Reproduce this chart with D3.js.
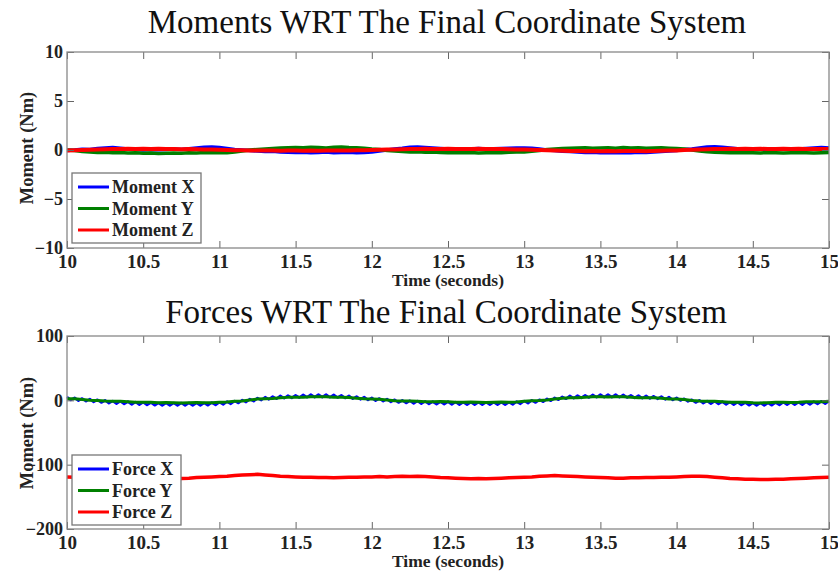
<!DOCTYPE html>
<html>
<head>
<meta charset="utf-8">
<script src="https://cdn.jsdelivr.net/npm/d3@7"></script>
<style>
  html, body { margin: 0; padding: 0; background: #fff; }
  svg { display: block; }
  text { font-family: "Liberation Serif", "Times New Roman", "DejaVu Serif", serif; }
</style>
</head>
<body>
<svg id="chart" width="838" height="571"></svg>
<script>
// ---------------- DATA ----------------
const timeDomain = [10, 15];
const xTickValues = [10, 10.5, 11, 11.5, 12, 12.5, 13, 13.5, 14, 14.5, 15];
const xTickLabels = ["10", "10.5", "11", "11.5", "12", "12.5", "13", "13.5", "14", "14.5", "15"];

const momentTitle = "Moments WRT The Final Coordinate System";
const forceTitle = "Forces WRT The Final Coordinate System";
const xLabel = "Time (seconds)";
const yLabel = "Moment (Nm)";

const momentDomain = [-10, 10];
const momentTicks = [-10, -5, 0, 5, 10];
const forceDomain = [-200, 100];
const forceTicks = [-200, -100, 0, 100];

const momentNames = ["Moment X", "Moment Y", "Moment Z"];
const forceNames = ["Force X", "Force Y", "Force Z"];
const seriesColors = ["#0000ff", "#008000", "#ff0000"];

// Moments, sampled every 0.05 s from 10 s to 15 s
const momentX = [
  -0.05,0.0,0.08,0.05,0.15,0.2,0.25,0.18,0.1,0.05,
  0.0,0.05,0.02,0.05,0.1,0.05,0.12,0.2,0.28,0.3,
  0.25,0.15,0.05,0.0,-0.05,-0.1,-0.15,-0.12,-0.2,-0.22,
  -0.25,-0.22,-0.28,-0.25,-0.2,-0.27,-0.25,-0.22,-0.28,-0.25,
  -0.2,-0.1,0.0,0.1,0.18,0.28,0.3,0.25,0.2,0.15,
  0.1,0.12,0.08,0.1,0.15,0.1,0.12,0.15,0.18,0.2,
  0.2,0.18,0.1,0.0,-0.05,-0.12,-0.15,-0.2,-0.25,-0.22,
  -0.27,-0.25,-0.28,-0.25,-0.27,-0.22,-0.25,-0.2,-0.15,-0.1,
  -0.05,0.05,0.1,0.2,0.3,0.32,0.28,0.2,0.12,0.1,
  0.05,0.08,0.1,0.05,0.12,0.08,0.1,0.15,0.2,0.25,
  0.2
];
const momentY = [
  0.0,-0.05,-0.15,-0.2,-0.25,-0.22,-0.28,-0.25,-0.3,-0.28,
  -0.32,-0.3,-0.35,-0.33,-0.3,-0.32,-0.28,-0.3,-0.25,-0.28,
  -0.25,-0.28,-0.2,-0.1,0.0,0.05,0.1,0.15,0.2,0.22,
  0.25,0.22,0.28,0.25,0.2,0.27,0.3,0.25,0.22,0.18,
  0.1,0.05,-0.05,-0.1,-0.15,-0.2,-0.18,-0.22,-0.2,-0.25,
  -0.27,-0.25,-0.28,-0.25,-0.3,-0.27,-0.25,-0.28,-0.22,-0.2,
  -0.2,-0.12,-0.05,0.05,0.1,0.15,0.18,0.2,0.22,0.18,
  0.2,0.22,0.18,0.25,0.2,0.22,0.18,0.2,0.22,0.18,
  0.15,0.1,0.0,-0.1,-0.18,-0.22,-0.25,-0.27,-0.25,-0.28,
  -0.27,-0.3,-0.25,-0.28,-0.3,-0.27,-0.25,-0.28,-0.3,-0.27,
  -0.25
];
const momentZ = [
  -0.05,-0.03,0.0,0.03,0.05,0.08,0.1,0.1,0.12,0.1,
  0.12,0.1,0.12,0.1,0.1,0.08,0.1,0.08,0.05,0.05,
  0.03,0.0,-0.02,-0.03,-0.05,-0.05,-0.06,-0.05,-0.07,-0.05,
  -0.06,-0.08,-0.06,-0.07,-0.05,-0.06,-0.05,-0.04,-0.03,-0.02,
  0.0,0.02,0.04,0.06,0.08,0.1,0.1,0.12,0.1,0.1,
  0.12,0.1,0.11,0.1,0.12,0.1,0.09,0.1,0.08,0.06,
  0.05,0.03,0.0,-0.03,-0.06,-0.08,-0.1,-0.1,-0.12,-0.1,
  -0.12,-0.1,-0.12,-0.1,-0.11,-0.1,-0.12,-0.1,-0.08,-0.06,
  -0.04,0.0,0.03,0.06,0.08,0.1,0.1,0.12,0.1,0.12,
  0.1,0.12,0.1,0.11,0.12,0.1,0.12,0.1,0.11,0.1,
  0.1
];

// Force X, sampled every 0.025 s (shows the fast ripple)
const forceX = [
  5,0.5,4,-0.5, 3,-1.5,2,-2.5, 1,-3.5,0,-4.5, -1,-5.3,-1.5,-5.8, -2,-6.3,-2.5,-6.8,
  -3,-7.3,-3.5,-7.8, -4,-8,-4,-8, -4,-8,-4,-8, -4,-8,-4,-8, -4,-7.8,-3.5,-7.3,
  -3,-6.5,-2,-5.5, -1,-4.3,0.5,-2.8, 2,-1.3,3.5,0.3, 5,1.5,6,2.5, 7,3.3,7.5,3.8,
  8,4.3,8.5,4.8, 9,5,9,5, 9,4.8,8.5,4.3, 8,3.5,7,2.5, 6,1.5,5,0.5,
  4,-0.5,3,-1.5, 2,-2.5,1,-3.5, 0,-4.3,-0.5,-4.8, -1,-5.3,-1.5,-5.8, -2,-6,-2,-6,
  -2,-6.3,-2.5,-6.8, -3,-7,-3,-7, -3,-7,-3,-7, -3,-7,-3,-7, -3,-6.5,-2,-5.5,
  -1,-4.5,0,-3.5, 1,-2.3,2.5,-0.8, 4,0.8,5.5,2.3, 7,3.3,7.5,3.8, 8,4.3,8.5,4.8,
  9,5,9,5, 9,4.8,8.5,4.3, 8,3.8,7.5,3.3, 7,2.8,6.5,2.3, 6,1.5,5,0.5,
  4,-0.3,2.5,-1.8, 1,-3.5,0,-4.5, -1,-5.3,-1.5,-5.8, -2,-6.3,-2.5,-6.8, -3,-7.3,-3.5,-7.8,
  -4,-8,-4,-8, -4,-7.8,-3.5,-7.3, -3,-7,-3,-7, -3,-6.8,-2.5,-6.3, -2,-5.8,-1.5,-5.3,
  -1
];
// Force Y and Force Z, sampled every 0.05 s
const forceY = [
  2.6,2.3,1.2,0.2,-0.2,-1.2,-1.6,-1.6,-2.3,-3.0,
  -3,-3.0,-3.7,-3.4,-3.7,-4.0,-3.7,-3.4,-3.7,-3.7,
  -3,-2.6,-1.6,-0.9,0.5,1.9,2.6,3.0,4,4.6,
  4.7,4.8,5.4,5.7,5.4,4.8,4.7,4.3,3.3,2.3,
  1.9,1.5,0.5,-0.5,-0.9,-1.0,-1.6,-2.2,-2.3,-2.0,
  -2.3,-3.0,-3,-2.7,-3,-3.3,-3,-2.7,-3,-2.6,
  -1.6,-0.6,-0.2,0.5,1.9,3.3,4,4.0,4.7,5.4,
  5.4,5.1,5.4,5.4,4.7,4.0,4,4.0,3.3,2.2,
  1.9,1.2,-0.2,-1.2,-1.6,-1.6,-2.3,-3.0,-3,-3.0,
  -3.7,-4.0,-3.7,-3.0,-3,-3.3,-3,-2.3,-2.3,-2.3,
  -1.6
];
const forceZ = [
  -119,-119.5,-119,-118.5,-119,-119.5,-119,-119,-120,-120.5,
  -121,-121.5,-122,-122.5,-122,-121.5,-121,-120,-119.5,-119,
  -118.5,-118,-117,-116,-115.5,-115,-116,-117,-118,-118.5,
  -119,-119.5,-119.5,-120,-120,-120.5,-120,-119.5,-119.5,-119,
  -119,-118.5,-119,-118.5,-118,-118.5,-118,-118.5,-119,-120,
  -120.5,-121,-121.5,-122,-121.5,-122,-121.5,-121,-120.5,-120,
  -119.5,-119,-118,-117.5,-117,-117.5,-118,-118.5,-119,-119.5,
  -120,-120.5,-121,-121,-120.5,-120.5,-120,-120,-119.5,-119.5,
  -119,-118.5,-118,-118,-118.5,-119.5,-120.5,-121.5,-122,-122.5,
  -122.5,-123,-123,-122.5,-122.5,-122,-121.5,-121,-120.5,-120,
  -119.5
];

// ---------------- DRAWING ----------------
const svg = d3.select("#chart");
const x = d3.scaleLinear().domain(timeDomain).range([67, 829]);

function toPoints(values) {
  const t = d3.scaleLinear().domain([0, values.length - 1]).range(timeDomain);
  return values.map((v, i) => [t(i), v]);
}

function panel(cfg) {
  const y = d3.scaleLinear().domain(cfg.domain).range([cfg.bottom, cfg.top]);
  const g = svg.append("g");
  const left = x.range()[0], right = x.range()[1];

  // title
  g.append("text")
    .attr("x", cfg.titleX).attr("y", cfg.titleY)
    .attr("text-anchor", "middle")
    .attr("font-size", 33)
    .attr("fill", "#111")
    .text(cfg.title);

  // data lines
  const line = d3.line().x(d => x(d[0])).y(d => y(d[1]));
  cfg.series.forEach((s, i) => {
    g.append("path")
      .datum(toPoints(s))
      .attr("fill", "none")
      .attr("stroke", seriesColors[i])
      .attr("stroke-width", cfg.widths[i])
      .attr("stroke-linejoin", "round")
      .attr("d", line);
  });

  // axes (ticks inward, mirrored)
  const tickColor = "#666";
  const bAxis = g.append("g").attr("transform", `translate(0,${cfg.bottom})`)
    .call(d3.axisBottom(x).tickValues(xTickValues).tickSize(-7)
      .tickFormat((d, i) => xTickLabels[i]));
  bAxis.selectAll("text").attr("y", 13).attr("dy", "0.35em")
    .attr("font-size", 19).attr("font-weight", "bold").attr("fill", "#222");

  g.append("g").attr("transform", `translate(0,${cfg.top})`)
    .call(d3.axisTop(x).tickValues(xTickValues).tickSize(-7).tickFormat(""));

  const lAxis = g.append("g").attr("transform", `translate(${left},0)`)
    .call(d3.axisLeft(y).tickValues(cfg.ticks).tickSize(-7).tickPadding(4));
  lAxis.selectAll("text")
    .attr("font-size", 18).attr("font-weight", "bold").attr("fill", "#222");

  g.append("g").attr("transform", `translate(${right},0)`)
    .call(d3.axisRight(y).tickValues(cfg.ticks).tickSize(-7).tickFormat(""));

  g.selectAll(".domain").remove();
  g.selectAll(".tick line").attr("stroke", tickColor);
  g.selectAll(".tick text").style("font-family", "'Liberation Serif', 'Times New Roman', serif");

  // axes box
  g.append("rect")
    .attr("x", left).attr("y", cfg.top)
    .attr("width", right - left).attr("height", cfg.bottom - cfg.top)
    .attr("fill", "none").attr("stroke", "#888").attr("stroke-width", 1.3);

  // labels
  g.append("text")
    .attr("x", (left + right) / 2).attr("y", cfg.bottom + 32)
    .attr("dy", "0.35em")
    .attr("text-anchor", "middle")
    .attr("font-size", 17.5).attr("font-weight", "bold").attr("fill", "#222")
    .text(xLabel);

  g.append("text")
    .attr("transform", `translate(27,${cfg.yLabelY}) rotate(-90)`)
    .attr("dy", "0.35em")
    .attr("text-anchor", "middle")
    .attr("font-size", 18.5).attr("font-weight", "bold").attr("fill", "#222")
    .text(yLabel);

  // legend
  const lg = g.append("g");
  lg.append("rect")
    .attr("x", cfg.legend.x).attr("y", cfg.legend.y)
    .attr("width", cfg.legend.w).attr("height", cfg.legend.h)
    .attr("fill", "#fff").attr("stroke", "#777").attr("stroke-width", 1.3);
  cfg.names.forEach((n, i) => {
    const cy = cfg.legend.y + 14 + i * 21.5;
    lg.append("line")
      .attr("x1", cfg.legend.x + 6).attr("x2", cfg.legend.x + 37)
      .attr("y1", cy).attr("y2", cy)
      .attr("stroke", seriesColors[i]).attr("stroke-width", 3);
    lg.append("text")
      .attr("x", cfg.legend.x + 40).attr("y", cy)
      .attr("dy", "0.35em")
      .attr("font-size", 18).attr("font-weight", "bold").attr("fill", "#222")
      .text(n);
  });
}

panel({
  title: momentTitle, titleX: 447, titleY: 33,
  top: 52, bottom: 248, domain: momentDomain, ticks: momentTicks,
  series: [momentX, momentY, momentZ], widths: [3.5, 3.5, 4],
  names: momentNames, yLabelY: 148,
  legend: { x: 72, y: 173, w: 129, h: 70 }
});

panel({
  title: forceTitle, titleX: 446, titleY: 323,
  top: 336, bottom: 529, domain: forceDomain, ticks: forceTicks,
  series: [forceX, forceY, forceZ], widths: [2.5, 3, 3.5],
  names: forceNames, yLabelY: 433,
  legend: { x: 72, y: 455, w: 109, h: 70 }
});
</script>
</body>
</html>
